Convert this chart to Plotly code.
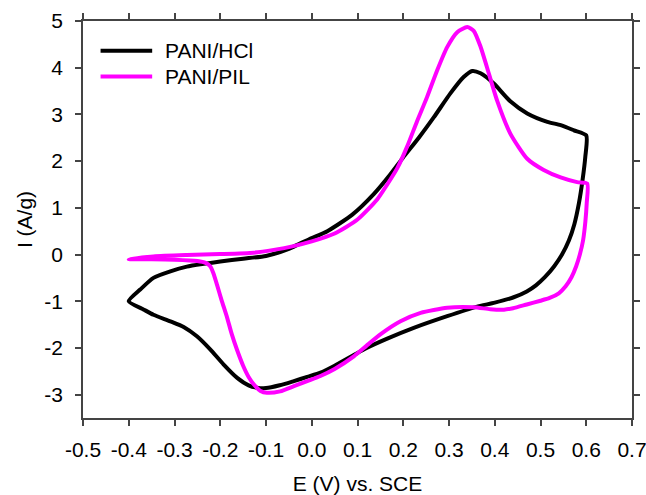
import plotly.graph_objects as go

# PANI/HCl (black) - anodic sweep then cathodic sweep
hcl_fwd_x = [-0.40, -0.375, -0.346, -0.309, -0.273, -0.236, -0.20, -0.15, -0.10, -0.05, -0.025, 0.0, 0.034,
             0.088, 0.136, 0.172, 0.20, 0.234, 0.267, 0.303, 0.332, 0.351, 0.369, 0.398, 0.434, 0.471,
             0.515, 0.544, 0.573, 0.60]
hcl_fwd_y = [-1.00, -0.75, -0.50, -0.36, -0.26, -0.20, -0.15, -0.09, -0.03, 0.12, 0.24, 0.35, 0.50,
             0.85, 1.30, 1.72, 2.08, 2.50, 2.94, 3.45, 3.80, 3.93, 3.88, 3.66, 3.28, 3.02,
             2.84, 2.77, 2.66, 2.55]
hcl_rev_x = [0.598, 0.592, 0.584, 0.574, 0.562, 0.547, 0.530, 0.510, 0.490, 0.470, 0.440, 0.400,
             0.360, 0.296, 0.223, 0.165, 0.120, 0.092, 0.050, 0.019, -0.010, -0.039, -0.070, -0.100,
             -0.120, -0.138, -0.163, -0.193, -0.222, -0.251, -0.28, -0.309, -0.346, -0.367, -0.40]
hcl_rev_y = [2.10, 1.60, 1.10, 0.65, 0.30, 0.00, -0.25, -0.48, -0.66, -0.79, -0.92, -1.03,
             -1.12, -1.32, -1.57, -1.80, -2.00, -2.15, -2.38, -2.53, -2.62, -2.71, -2.80, -2.86,
             -2.85, -2.80, -2.64, -2.35, -2.03, -1.75, -1.55, -1.43, -1.29, -1.18, -1.00]

# PANI/PIL (magenta)
pil_fwd_x = [-0.40, -0.346, -0.273, -0.20, -0.127, -0.083, -0.04, 0.0, 0.05, 0.10, 0.143, 0.165,
             0.187, 0.208, 0.230, 0.252, 0.274, 0.296, 0.318, 0.340, 0.354, 0.369, 0.383, 0.405,
             0.434, 0.471, 0.507, 0.544, 0.580, 0.602]
pil_fwd_y = [-0.10, -0.04, -0.01, 0.01, 0.04, 0.10, 0.18, 0.28, 0.45, 0.75, 1.18, 1.50,
             1.85, 2.30, 2.85, 3.37, 3.94, 4.44, 4.76, 4.87, 4.79, 4.45, 4.01, 3.30,
             2.59, 2.05, 1.81, 1.65, 1.55, 1.52]
pil_rev_x = [0.601, 0.598, 0.593, 0.586, 0.578, 0.568, 0.555, 0.540, 0.520, 0.500, 0.470, 0.440,
             0.420, 0.390, 0.354, 0.296, 0.238, 0.194, 0.150, 0.120, 0.092, 0.050, 0.019, -0.010,
             -0.039, -0.069, -0.098, -0.112, -0.125, -0.138, -0.150, -0.163, -0.175, -0.185, -0.197,
             -0.207, -0.215, -0.222, -0.232, -0.250, -0.300, -0.350, -0.40]
pil_rev_y = [1.10, 0.70, 0.30, 0.00, -0.25, -0.48, -0.68, -0.83, -0.93, -0.99, -1.07, -1.15,
             -1.18, -1.17, -1.13, -1.14, -1.25, -1.43, -1.71, -1.95, -2.18, -2.45, -2.60, -2.71,
             -2.82, -2.93, -2.96, -2.92, -2.80, -2.62, -2.38, -2.05, -1.70, -1.35, -0.98,
             -0.65, -0.40, -0.25, -0.18, -0.14, -0.11, -0.10, -0.10]

x_ticks = [-0.5, -0.4, -0.3, -0.2, -0.1, 0.0, 0.1, 0.2, 0.3, 0.4, 0.5, 0.6, 0.7]
x_tick_labels = ["-0.5", "-0.4", "-0.3", "-0.2", "-0.1", "0.0", "0.1", "0.2", "0.3", "0.4", "0.5", "0.6", "0.7"]
y_ticks = [-3, -2, -1, 0, 1, 2, 3, 4, 5]
y_tick_labels = ["-3", "-2", "-1", "0", "1", "2", "3", "4", "5"]

series_names = ["PANI/HCl", "PANI/PIL"]
series_colors = ["black", "#ff00ff"]

FONT = "Arial, Liberation Sans, sans-serif"
AXC = "#444444"

fig = go.Figure()
fig.add_trace(go.Scatter(x=hcl_fwd_x + hcl_rev_x, y=hcl_fwd_y + hcl_rev_y, mode="lines",
                         name=series_names[0], showlegend=False,
                         line=dict(color=series_colors[0], width=4, shape="spline", smoothing=0.6)))
fig.add_trace(go.Scatter(x=pil_fwd_x + pil_rev_x, y=pil_fwd_y + pil_rev_y, mode="lines",
                         name=series_names[1], showlegend=False,
                         line=dict(color=series_colors[1], width=4, shape="spline", smoothing=0.6)))

# legend drawn in paper coordinates
legend_y = [0.925, 0.860]
for name, color, ly in zip(series_names, series_colors, legend_y):
    fig.add_shape(type="line", xref="paper", yref="paper", x0=0.032, x1=0.126, y0=ly, y1=ly,
                  line=dict(color=color, width=4))
    fig.add_annotation(xref="paper", yref="paper", x=0.146, y=ly, text=name, showarrow=False,
                       xanchor="left", yanchor="middle", font=dict(family=FONT, size=21, color="black"))

axis_common = dict(showgrid=False, zeroline=False, showline=True, linecolor=AXC, linewidth=1.5,
                   ticks="outside", ticklen=6, tickcolor=AXC, tickwidth=1.5, mirror="ticks",
                   automargin=False, ticklabeloverflow="allow",
                   tickfont=dict(family=FONT, size=21, color="black"))

fig.update_layout(
    width=646, height=495,
    margin=dict(l=83, r=14, t=21, b=77),
    paper_bgcolor="white", plot_bgcolor="white",
    font=dict(family=FONT, size=21, color="black"),
    xaxis=dict(range=[-0.5, 0.7], tickvals=x_ticks, ticktext=x_tick_labels,
               title=dict(text="E (V) vs. SCE", font=dict(family=FONT, size=21), standoff=18),
               ticklabelstandoff=6, **axis_common),
    yaxis=dict(range=[-3.5, 5], tickvals=y_ticks, ticktext=y_tick_labels,
               title=dict(text="I (A/g)", font=dict(family=FONT, size=21), standoff=6),
               ticklabelstandoff=8, **axis_common),
    showlegend=False,
)

fig.write_html("out.html", config={"displayModeBar": False},
               post_script="document.body.style.margin='0';document.body.style.overflow='hidden';")
